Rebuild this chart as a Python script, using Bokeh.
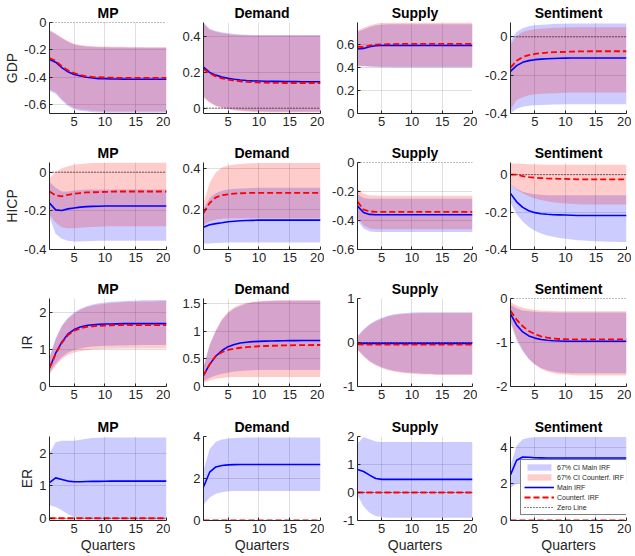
from bokeh.plotting import figure
from bokeh.layouts import gridplot
from bokeh.models import Range1d, FixedTicker, Legend, LegendItem
from bokeh.embed import file_html
from bokeh.resources import INLINE

quarters = list(range(1, 21))
zero_line = [0] * 20
shocks = ["MP", "Demand", "Supply", "Sentiment"]
variables = ["GDP", "HICP", "IR", "ER"]

# ---------------- GDP ----------------
gdp_mp_main = [-0.27, -0.29, -0.33, -0.36, -0.38, -0.39, -0.40, -0.405, -0.41, -0.41, -0.412, -0.413, -0.414, -0.415, -0.415, -0.415, -0.415, -0.415, -0.415, -0.415]
gdp_mp_cf = [-0.26, -0.28, -0.32, -0.35, -0.37, -0.385, -0.393, -0.398, -0.40, -0.402, -0.403, -0.404, -0.405, -0.405, -0.405, -0.405, -0.405, -0.405, -0.405, -0.405]
gdp_mp_hi = [-0.06, -0.085, -0.115, -0.14, -0.16, -0.17, -0.175, -0.178, -0.18, -0.181, -0.182, -0.183, -0.183, -0.184, -0.184, -0.184, -0.185, -0.185, -0.185, -0.185]
gdp_mp_lo = [-0.50, -0.52, -0.57, -0.61, -0.635, -0.645, -0.65, -0.655, -0.658, -0.66, -0.66, -0.66, -0.66, -0.66, -0.66, -0.66, -0.66, -0.66, -0.66, -0.66]
gdp_mp_cf_hi = [-0.055, -0.08, -0.11, -0.135, -0.155, -0.165, -0.17, -0.173, -0.175, -0.176, -0.177, -0.178, -0.178, -0.179, -0.179, -0.179, -0.18, -0.18, -0.18, -0.18]
gdp_mp_cf_lo = [-0.49, -0.51, -0.56, -0.60, -0.625, -0.635, -0.64, -0.645, -0.648, -0.65, -0.65, -0.65, -0.65, -0.65, -0.65, -0.65, -0.65, -0.65, -0.65, -0.65]

gdp_dem_main = [0.23, 0.20, 0.185, 0.175, 0.167, 0.162, 0.158, 0.155, 0.153, 0.152, 0.151, 0.15, 0.15, 0.149, 0.149, 0.149, 0.148, 0.148, 0.148, 0.148]
gdp_dem_cf = [0.22, 0.195, 0.178, 0.167, 0.16, 0.154, 0.15, 0.147, 0.145, 0.144, 0.143, 0.142, 0.142, 0.141, 0.141, 0.141, 0.141, 0.141, 0.141, 0.141]
gdp_dem_hi = [0.48, 0.445, 0.432, 0.425, 0.42, 0.416, 0.413, 0.411, 0.41, 0.41, 0.41, 0.41, 0.41, 0.41, 0.41, 0.41, 0.41, 0.41, 0.41, 0.41]
gdp_dem_lo = [0.065, 0.035, 0.015, 0.005, -0.003, -0.008, -0.012, -0.015, -0.017, -0.018, -0.019, -0.02, -0.02, -0.02, -0.02, -0.02, -0.02, -0.02, -0.02, -0.02]
gdp_dem_cf_hi = [0.475, 0.44, 0.428, 0.42, 0.415, 0.412, 0.41, 0.408, 0.407, 0.407, 0.407, 0.407, 0.407, 0.407, 0.407, 0.407, 0.407, 0.407, 0.407, 0.407]
gdp_dem_cf_lo = [0.06, 0.03, 0.01, 0.0, -0.008, -0.013, -0.017, -0.02, -0.022, -0.023, -0.024, -0.025, -0.025, -0.025, -0.025, -0.025, -0.025, -0.025, -0.025, -0.025]

gdp_sup_main = [0.56, 0.565, 0.58, 0.588, 0.59, 0.59, 0.59, 0.59, 0.59, 0.59, 0.59, 0.59, 0.59, 0.59, 0.59, 0.59, 0.59, 0.59, 0.59, 0.59]
gdp_sup_cf = [0.58, 0.575, 0.59, 0.598, 0.60, 0.602, 0.603, 0.604, 0.605, 0.605, 0.605, 0.605, 0.605, 0.605, 0.605, 0.605, 0.605, 0.605, 0.605, 0.605]
gdp_sup_hi = [0.71, 0.73, 0.75, 0.765, 0.77, 0.775, 0.775, 0.775, 0.775, 0.775, 0.775, 0.775, 0.775, 0.775, 0.775, 0.775, 0.775, 0.775, 0.775, 0.775]
gdp_sup_lo = [0.41, 0.41, 0.405, 0.403, 0.402, 0.401, 0.40, 0.40, 0.40, 0.40, 0.40, 0.40, 0.40, 0.40, 0.40, 0.40, 0.40, 0.40, 0.40, 0.40]
gdp_sup_cf_hi = [0.72, 0.745, 0.765, 0.78, 0.785, 0.788, 0.79, 0.79, 0.79, 0.79, 0.79, 0.79, 0.79, 0.79, 0.79, 0.79, 0.79, 0.79, 0.79, 0.79]
gdp_sup_cf_lo = [0.415, 0.415, 0.41, 0.408, 0.406, 0.405, 0.405, 0.405, 0.405, 0.405, 0.405, 0.405, 0.405, 0.405, 0.405, 0.405, 0.405, 0.405, 0.405, 0.405]

gdp_sen_main = [-0.18, -0.15, -0.133, -0.124, -0.119, -0.116, -0.114, -0.113, -0.112, -0.111, -0.11, -0.11, -0.11, -0.11, -0.11, -0.11, -0.11, -0.11, -0.11, -0.11]
gdp_sen_cf = [-0.16, -0.125, -0.105, -0.095, -0.089, -0.085, -0.082, -0.08, -0.079, -0.078, -0.077, -0.076, -0.076, -0.075, -0.075, -0.075, -0.075, -0.075, -0.075, -0.075]
gdp_sen_hi = [-0.02, 0.025, 0.045, 0.055, 0.06, 0.063, 0.065, 0.067, 0.068, 0.069, 0.07, 0.07, 0.07, 0.07, 0.07, 0.07, 0.07, 0.07, 0.07, 0.07]
gdp_sen_lo = [-0.40, -0.375, -0.365, -0.36, -0.357, -0.355, -0.354, -0.353, -0.353, -0.352, -0.352, -0.352, -0.352, -0.352, -0.352, -0.352, -0.352, -0.352, -0.352, -0.352]
gdp_sen_cf_hi = [-0.04, 0.005, 0.025, 0.035, 0.04, 0.043, 0.045, 0.047, 0.048, 0.049, 0.05, 0.05, 0.05, 0.05, 0.05, 0.05, 0.05, 0.05, 0.05, 0.05]
gdp_sen_cf_lo = [-0.38, -0.33, -0.315, -0.305, -0.30, -0.297, -0.295, -0.294, -0.293, -0.292, -0.291, -0.29, -0.29, -0.29, -0.29, -0.29, -0.29, -0.29, -0.29, -0.29]

# ---------------- HICP ----------------
hicp_mp_main = [-0.16, -0.195, -0.198, -0.19, -0.185, -0.181, -0.178, -0.177, -0.176, -0.175, -0.175, -0.175, -0.175, -0.175, -0.175, -0.175, -0.175, -0.175, -0.175, -0.175]
hicp_mp_cf = [-0.10, -0.12, -0.125, -0.117, -0.112, -0.108, -0.105, -0.104, -0.103, -0.102, -0.101, -0.10, -0.10, -0.10, -0.10, -0.10, -0.10, -0.10, -0.10, -0.10]
hicp_mp_hi = [-0.05, -0.08, -0.10, -0.10, -0.095, -0.092, -0.09, -0.09, -0.09, -0.09, -0.09, -0.09, -0.09, -0.09, -0.09, -0.09, -0.09, -0.09, -0.09, -0.09]
hicp_mp_lo = [-0.23, -0.32, -0.345, -0.355, -0.358, -0.358, -0.357, -0.356, -0.355, -0.355, -0.355, -0.355, -0.355, -0.355, -0.355, -0.355, -0.355, -0.355, -0.355, -0.355]
hicp_mp_cf_hi = [-0.03, 0.0, 0.02, 0.03, 0.038, 0.042, 0.045, 0.047, 0.048, 0.049, 0.05, 0.05, 0.05, 0.05, 0.05, 0.05, 0.05, 0.05, 0.05, 0.05]
hicp_mp_cf_lo = [-0.22, -0.26, -0.285, -0.29, -0.29, -0.288, -0.285, -0.283, -0.282, -0.281, -0.28, -0.28, -0.28, -0.28, -0.28, -0.28, -0.28, -0.28, -0.28, -0.28]

hicp_dem_main = [0.11, 0.122, 0.128, 0.132, 0.137, 0.14, 0.142, 0.143, 0.144, 0.145, 0.145, 0.145, 0.145, 0.145, 0.145, 0.145, 0.145, 0.145, 0.145, 0.145]
hicp_dem_cf = [0.18, 0.23, 0.258, 0.268, 0.273, 0.276, 0.278, 0.279, 0.28, 0.28, 0.28, 0.28, 0.28, 0.28, 0.28, 0.28, 0.28, 0.28, 0.28, 0.28]
hicp_dem_hi = [0.20, 0.255, 0.278, 0.29, 0.296, 0.30, 0.302, 0.303, 0.304, 0.305, 0.305, 0.305, 0.305, 0.305, 0.305, 0.305, 0.305, 0.305, 0.305, 0.305]
hicp_dem_lo = [0.03, 0.03, 0.032, 0.033, 0.034, 0.035, 0.035, 0.035, 0.035, 0.035, 0.035, 0.035, 0.035, 0.035, 0.035, 0.035, 0.035, 0.035, 0.035, 0.035]
hicp_dem_cf_hi = [0.23, 0.33, 0.38, 0.405, 0.415, 0.42, 0.423, 0.425, 0.426, 0.427, 0.428, 0.428, 0.428, 0.428, 0.428, 0.428, 0.428, 0.428, 0.428, 0.428]
hicp_dem_cf_lo = [0.12, 0.14, 0.148, 0.152, 0.154, 0.155, 0.155, 0.155, 0.155, 0.155, 0.155, 0.155, 0.155, 0.155, 0.155, 0.155, 0.155, 0.155, 0.155, 0.155]

hicp_sup_main = [-0.30, -0.345, -0.358, -0.36, -0.36, -0.36, -0.36, -0.36, -0.36, -0.36, -0.36, -0.36, -0.36, -0.36, -0.36, -0.36, -0.36, -0.36, -0.36, -0.36]
hicp_sup_cf = [-0.27, -0.325, -0.337, -0.34, -0.34, -0.34, -0.34, -0.34, -0.34, -0.34, -0.34, -0.34, -0.34, -0.34, -0.34, -0.34, -0.34, -0.34, -0.34, -0.34]
hicp_sup_hi = [-0.22, -0.245, -0.25, -0.25, -0.25, -0.25, -0.25, -0.25, -0.25, -0.25, -0.25, -0.25, -0.25, -0.25, -0.25, -0.25, -0.25, -0.25, -0.25, -0.25]
hicp_sup_lo = [-0.40, -0.455, -0.475, -0.48, -0.48, -0.48, -0.48, -0.48, -0.48, -0.48, -0.48, -0.48, -0.48, -0.48, -0.48, -0.48, -0.48, -0.48, -0.48, -0.48]
hicp_sup_cf_hi = [-0.18, -0.215, -0.225, -0.228, -0.23, -0.23, -0.23, -0.23, -0.23, -0.23, -0.23, -0.23, -0.23, -0.23, -0.23, -0.23, -0.23, -0.23, -0.23, -0.23]
hicp_sup_cf_lo = [-0.38, -0.435, -0.455, -0.46, -0.46, -0.46, -0.46, -0.46, -0.46, -0.46, -0.46, -0.46, -0.46, -0.46, -0.46, -0.46, -0.46, -0.46, -0.46, -0.46]

hicp_sen_main = [-0.10, -0.145, -0.175, -0.193, -0.203, -0.209, -0.212, -0.214, -0.215, -0.216, -0.217, -0.218, -0.218, -0.218, -0.218, -0.218, -0.218, -0.218, -0.218, -0.218]
hicp_sen_cf = [0.0, 0.0, -0.008, -0.013, -0.016, -0.018, -0.02, -0.021, -0.022, -0.023, -0.024, -0.025, -0.025, -0.025, -0.025, -0.025, -0.025, -0.025, -0.025, -0.025]
hicp_sen_hi = [-0.05, -0.075, -0.092, -0.10, -0.105, -0.108, -0.11, -0.11, -0.11, -0.11, -0.11, -0.11, -0.11, -0.11, -0.11, -0.11, -0.11, -0.11, -0.11, -0.11]
hicp_sen_lo = [-0.15, -0.21, -0.25, -0.28, -0.30, -0.315, -0.325, -0.332, -0.338, -0.342, -0.346, -0.35, -0.352, -0.354, -0.356, -0.357, -0.358, -0.359, -0.36, -0.36]
hicp_sen_cf_hi = [0.06, 0.06, 0.058, 0.056, 0.055, 0.054, 0.053, 0.053, 0.053, 0.053, 0.053, 0.053, 0.053, 0.053, 0.053, 0.053, 0.053, 0.053, 0.053, 0.053]
hicp_sen_cf_lo = [-0.05, -0.08, -0.10, -0.115, -0.127, -0.135, -0.142, -0.147, -0.151, -0.154, -0.156, -0.158, -0.159, -0.16, -0.16, -0.16, -0.16, -0.16, -0.16, -0.16]

# ---------------- IR ----------------
ir_mp_main = [0.5, 0.9, 1.2, 1.42, 1.54, 1.61, 1.65, 1.67, 1.68, 1.69, 1.69, 1.695, 1.70, 1.70, 1.70, 1.70, 1.70, 1.70, 1.70, 1.70]
ir_mp_cf = [0.5, 0.88, 1.18, 1.39, 1.51, 1.57, 1.61, 1.63, 1.64, 1.65, 1.655, 1.66, 1.66, 1.66, 1.66, 1.66, 1.66, 1.66, 1.66, 1.66]
ir_mp_hi = [0.8, 1.3, 1.65, 1.86, 2.0, 2.1, 2.17, 2.22, 2.25, 2.27, 2.29, 2.30, 2.31, 2.32, 2.32, 2.33, 2.33, 2.33, 2.34, 2.34]
ir_mp_lo = [0.38, 0.62, 0.8, 0.92, 0.99, 1.03, 1.06, 1.08, 1.09, 1.10, 1.105, 1.11, 1.11, 1.115, 1.115, 1.12, 1.12, 1.12, 1.12, 1.12]
ir_mp_cf_hi = [0.78, 1.27, 1.62, 1.83, 1.97, 2.07, 2.14, 2.19, 2.22, 2.24, 2.26, 2.27, 2.28, 2.29, 2.29, 2.30, 2.30, 2.30, 2.31, 2.31]
ir_mp_cf_lo = [0.32, 0.56, 0.74, 0.85, 0.92, 0.96, 0.98, 1.0, 1.01, 1.02, 1.02, 1.025, 1.025, 1.03, 1.03, 1.03, 1.03, 1.03, 1.03, 1.03]

ir_dem_main = [0.2, 0.4, 0.55, 0.65, 0.72, 0.76, 0.785, 0.80, 0.81, 0.815, 0.82, 0.823, 0.825, 0.827, 0.828, 0.829, 0.83, 0.83, 0.83, 0.83]
ir_dem_cf = [0.2, 0.4, 0.55, 0.62, 0.66, 0.685, 0.70, 0.71, 0.72, 0.727, 0.732, 0.736, 0.74, 0.742, 0.744, 0.746, 0.748, 0.749, 0.75, 0.75]
ir_dem_hi = [0.35, 0.75, 1.0, 1.2, 1.33, 1.41, 1.46, 1.50, 1.52, 1.53, 1.54, 1.545, 1.55, 1.55, 1.55, 1.55, 1.55, 1.55, 1.55, 1.55]
ir_dem_lo = [0.1, 0.16, 0.2, 0.23, 0.25, 0.27, 0.28, 0.29, 0.295, 0.30, 0.30, 0.30, 0.30, 0.30, 0.30, 0.30, 0.30, 0.30, 0.30, 0.30]
ir_dem_cf_hi = [0.36, 0.76, 1.02, 1.22, 1.35, 1.43, 1.48, 1.51, 1.53, 1.54, 1.55, 1.555, 1.56, 1.56, 1.56, 1.56, 1.56, 1.56, 1.56, 1.56]
ir_dem_cf_lo = [0.07, 0.11, 0.14, 0.155, 0.165, 0.17, 0.17, 0.17, 0.17, 0.17, 0.17, 0.17, 0.17, 0.17, 0.17, 0.17, 0.17, 0.17, 0.17, 0.17]

ir_sup_main = [-0.02, -0.02, -0.02, -0.02, -0.02, -0.02, -0.02, -0.02, -0.02, -0.02, -0.02, -0.02, -0.02, -0.02, -0.02, -0.02, -0.02, -0.02, -0.02, -0.02]
ir_sup_cf = [-0.04, -0.05, -0.05, -0.05, -0.05, -0.05, -0.05, -0.05, -0.05, -0.05, -0.05, -0.05, -0.05, -0.05, -0.05, -0.05, -0.05, -0.05, -0.05, -0.05]
ir_sup_hi = [0.15, 0.3, 0.42, 0.5, 0.56, 0.61, 0.64, 0.66, 0.67, 0.68, 0.685, 0.69, 0.69, 0.69, 0.69, 0.69, 0.69, 0.69, 0.69, 0.69]
ir_sup_lo = [-0.15, -0.3, -0.42, -0.5, -0.56, -0.61, -0.64, -0.66, -0.68, -0.69, -0.70, -0.71, -0.71, -0.72, -0.72, -0.72, -0.72, -0.72, -0.72, -0.72]
ir_sup_cf_hi = [0.13, 0.28, 0.4, 0.48, 0.54, 0.59, 0.62, 0.64, 0.65, 0.66, 0.665, 0.67, 0.67, 0.67, 0.67, 0.67, 0.67, 0.67, 0.67, 0.67]
ir_sup_cf_lo = [-0.17, -0.32, -0.44, -0.52, -0.58, -0.63, -0.66, -0.69, -0.70, -0.71, -0.72, -0.73, -0.73, -0.74, -0.74, -0.74, -0.74, -0.74, -0.74, -0.74]

ir_sen_main = [-0.35, -0.6, -0.76, -0.85, -0.9, -0.93, -0.95, -0.96, -0.965, -0.97, -0.97, -0.97, -0.97, -0.97, -0.97, -0.97, -0.97, -0.97, -0.97, -0.97]
ir_sen_cf = [-0.28, -0.48, -0.63, -0.74, -0.81, -0.86, -0.89, -0.91, -0.92, -0.925, -0.93, -0.93, -0.93, -0.93, -0.93, -0.93, -0.93, -0.93, -0.93, -0.93]
ir_sen_hi = [-0.15, -0.22, -0.27, -0.29, -0.30, -0.31, -0.315, -0.32, -0.32, -0.32, -0.32, -0.32, -0.32, -0.32, -0.32, -0.32, -0.32, -0.32, -0.32, -0.32]
ir_sen_lo = [-0.55, -0.95, -1.2, -1.38, -1.5, -1.58, -1.63, -1.66, -1.68, -1.69, -1.70, -1.70, -1.70, -1.70, -1.70, -1.70, -1.70, -1.70, -1.70, -1.70]
ir_sen_cf_hi = [-0.08, -0.16, -0.21, -0.24, -0.26, -0.27, -0.28, -0.285, -0.29, -0.29, -0.29, -0.29, -0.29, -0.29, -0.29, -0.29, -0.29, -0.29, -0.29, -0.29]
ir_sen_cf_lo = [-0.5, -0.9, -1.17, -1.37, -1.5, -1.6, -1.66, -1.70, -1.72, -1.73, -1.74, -1.75, -1.75, -1.75, -1.75, -1.75, -1.75, -1.75, -1.75, -1.75]

# ---------------- ER ----------------
er_mp_main = [1.1, 1.25, 1.2, 1.15, 1.13, 1.13, 1.135, 1.14, 1.14, 1.145, 1.15, 1.15, 1.15, 1.15, 1.15, 1.15, 1.15, 1.15, 1.15, 1.15]
er_mp_hi = [2.0, 2.35, 2.4, 2.4, 2.4, 2.43, 2.46, 2.48, 2.49, 2.5, 2.5, 2.5, 2.5, 2.5, 2.5, 2.5, 2.5, 2.5, 2.5, 2.5]
er_mp_lo = [0.4, 0.35, 0.25, 0.12, 0.03, -0.01, -0.03, -0.04, -0.05, -0.05, -0.05, -0.05, -0.05, -0.05, -0.05, -0.05, -0.05, -0.05, -0.05, -0.05]

er_dem_main = [1.6, 2.3, 2.55, 2.62, 2.65, 2.66, 2.665, 2.67, 2.67, 2.67, 2.67, 2.67, 2.67, 2.67, 2.67, 2.67, 2.67, 2.67, 2.67, 2.67]
er_dem_hi = [2.4, 3.4, 3.75, 3.86, 3.91, 3.93, 3.94, 3.95, 3.95, 3.95, 3.95, 3.95, 3.95, 3.95, 3.95, 3.95, 3.95, 3.95, 3.95, 3.95]
er_dem_lo = [0.75, 1.1, 1.27, 1.35, 1.39, 1.40, 1.40, 1.40, 1.40, 1.40, 1.40, 1.40, 1.40, 1.40, 1.40, 1.40, 1.40, 1.40, 1.40, 1.40]

er_sup_main = [0.82, 0.75, 0.62, 0.50, 0.47, 0.47, 0.47, 0.47, 0.47, 0.47, 0.47, 0.47, 0.47, 0.47, 0.47, 0.47, 0.47, 0.47, 0.47, 0.47]
er_sup_hi = [1.75, 1.98, 1.9, 1.82, 1.8, 1.8, 1.8, 1.8, 1.8, 1.8, 1.8, 1.8, 1.8, 1.8, 1.8, 1.8, 1.8, 1.8, 1.8, 1.8]
er_sup_lo = [-0.1, -0.5, -0.72, -0.84, -0.88, -0.9, -0.9, -0.9, -0.9, -0.9, -0.9, -0.9, -0.9, -0.9, -0.9, -0.9, -0.9, -0.9, -0.9, -0.9]

er_sen_main = [2.5, 3.3, 3.48, 3.46, 3.44, 3.43, 3.42, 3.42, 3.42, 3.42, 3.42, 3.42, 3.42, 3.42, 3.42, 3.42, 3.42, 3.42, 3.42, 3.42]
er_sen_hi = [3.0, 4.1, 4.45, 4.53, 4.56, 4.57, 4.57, 4.57, 4.57, 4.57, 4.57, 4.57, 4.57, 4.57, 4.57, 4.57, 4.57, 4.57, 4.57, 4.57]
er_sen_lo = [1.8, 2.0, 2.05, 2.08, 2.1, 2.1, 2.1, 2.1, 2.1, 2.1, 2.1, 2.1, 2.1, 2.1, 2.1, 2.1, 2.1, 2.1, 2.1, 2.1]

# counterfactual ER responses are zero
er_cf = [0.0] * 20

# axis limits and ticks per panel
y_limits = {
    ("GDP", "MP"): (-0.665, 0.0), ("GDP", "Demand"): (-0.03, 0.48),
    ("GDP", "Supply"): (0.0, 0.79), ("GDP", "Sentiment"): (-0.4, 0.075),
    ("HICP", "MP"): (-0.4, 0.05), ("HICP", "Demand"): (0.0, 0.43),
    ("HICP", "Supply"): (-0.6, 0.0), ("HICP", "Sentiment"): (-0.4, 0.065),
    ("IR", "MP"): (0.0, 2.38), ("IR", "Demand"): (0.0, 1.59),
    ("IR", "Supply"): (-1.0, 1.0), ("IR", "Sentiment"): (-2.0, 0.0),
    ("ER", "MP"): (-0.07, 2.53), ("ER", "Demand"): (0.0, 4.0),
    ("ER", "Supply"): (-1.0, 2.0), ("ER", "Sentiment"): (0.0, 4.6),
}
y_ticks = {
    ("GDP", "MP"): [-0.6, -0.4, -0.2, 0], ("GDP", "Demand"): [0, 0.2, 0.4],
    ("GDP", "Supply"): [0, 0.2, 0.4, 0.6], ("GDP", "Sentiment"): [-0.4, -0.2, 0],
    ("HICP", "MP"): [-0.4, -0.2, 0], ("HICP", "Demand"): [0, 0.2, 0.4],
    ("HICP", "Supply"): [-0.6, -0.4, -0.2, 0], ("HICP", "Sentiment"): [-0.4, -0.2, 0],
    ("IR", "MP"): [0, 1, 2], ("IR", "Demand"): [0, 0.5, 1, 1.5],
    ("IR", "Supply"): [-1, 0, 1], ("IR", "Sentiment"): [-2, -1, 0],
    ("ER", "MP"): [0, 1, 2], ("ER", "Demand"): [0, 2, 4],
    ("ER", "Supply"): [-1, 0, 1, 2], ("ER", "Sentiment"): [0, 2, 4],
}
x_ticks = [5, 10, 15, 20]

series = {
    ("GDP", "MP"): (gdp_mp_main, gdp_mp_cf, gdp_mp_lo, gdp_mp_hi, gdp_mp_cf_lo, gdp_mp_cf_hi),
    ("GDP", "Demand"): (gdp_dem_main, gdp_dem_cf, gdp_dem_lo, gdp_dem_hi, gdp_dem_cf_lo, gdp_dem_cf_hi),
    ("GDP", "Supply"): (gdp_sup_main, gdp_sup_cf, gdp_sup_lo, gdp_sup_hi, gdp_sup_cf_lo, gdp_sup_cf_hi),
    ("GDP", "Sentiment"): (gdp_sen_main, gdp_sen_cf, gdp_sen_lo, gdp_sen_hi, gdp_sen_cf_lo, gdp_sen_cf_hi),
    ("HICP", "MP"): (hicp_mp_main, hicp_mp_cf, hicp_mp_lo, hicp_mp_hi, hicp_mp_cf_lo, hicp_mp_cf_hi),
    ("HICP", "Demand"): (hicp_dem_main, hicp_dem_cf, hicp_dem_lo, hicp_dem_hi, hicp_dem_cf_lo, hicp_dem_cf_hi),
    ("HICP", "Supply"): (hicp_sup_main, hicp_sup_cf, hicp_sup_lo, hicp_sup_hi, hicp_sup_cf_lo, hicp_sup_cf_hi),
    ("HICP", "Sentiment"): (hicp_sen_main, hicp_sen_cf, hicp_sen_lo, hicp_sen_hi, hicp_sen_cf_lo, hicp_sen_cf_hi),
    ("IR", "MP"): (ir_mp_main, ir_mp_cf, ir_mp_lo, ir_mp_hi, ir_mp_cf_lo, ir_mp_cf_hi),
    ("IR", "Demand"): (ir_dem_main, ir_dem_cf, ir_dem_lo, ir_dem_hi, ir_dem_cf_lo, ir_dem_cf_hi),
    ("IR", "Supply"): (ir_sup_main, ir_sup_cf, ir_sup_lo, ir_sup_hi, ir_sup_cf_lo, ir_sup_cf_hi),
    ("IR", "Sentiment"): (ir_sen_main, ir_sen_cf, ir_sen_lo, ir_sen_hi, ir_sen_cf_lo, ir_sen_cf_hi),
    ("ER", "MP"): (er_mp_main, er_cf, er_mp_lo, er_mp_hi, er_cf, er_cf),
    ("ER", "Demand"): (er_dem_main, er_cf, er_dem_lo, er_dem_hi, er_cf, er_cf),
    ("ER", "Supply"): (er_sup_main, er_cf, er_sup_lo, er_sup_hi, er_cf, er_cf),
    ("ER", "Sentiment"): (er_sen_main, er_cf, er_sen_lo, er_sen_hi, er_cf, er_cf),
}

FONT = "Liberation Sans"
AX = "#262626"

# layout (pixels): per-column borders/widths, per-row borders/heights
col_width = [170, 154, 153, 154]
col_left = [49, 33, 33, 33]
col_right = [4, 4, 5, 5]
row_height = [141, 136, 138, 140]
row_top = [22, 18, 18, 18]
row_bottom = [28, 28, 29, 34]

rows = []
for r, var in enumerate(variables):
    row = []
    for c, shock in enumerate(shocks):
        key = (var, shock)
        main, cf, lo, hi, cf_lo, cf_hi = series[key]
        p = figure(width=col_width[c], height=row_height[r], output_backend="svg",
                   toolbar_location=None,
                   x_range=Range1d(1, 20), y_range=Range1d(*y_limits[key]),
                   min_border_left=col_left[c], min_border_right=col_right[c],
                   min_border_top=row_top[r], min_border_bottom=row_bottom[r],
                   title=shock)
        p.title.align = "center"
        p.title.text_font = FONT
        p.title.text_font_size = "14px"
        p.title.text_font_style = "bold"
        p.title.text_color = "black"
        p.title.standoff = 3
        p.outline_line_color = None
        p.background_fill_color = "white"
        p.border_fill_color = "white"

        for ax in (p.xaxis[0], p.yaxis[0]):
            ax.axis_line_color = AX
            ax.major_tick_line_color = AX
            ax.minor_tick_line_color = None
            ax.major_tick_in = 3
            ax.major_tick_out = 0
            ax.major_label_standoff = 3
            ax.major_label_text_font = FONT
            ax.major_label_text_font_size = "13px"
            ax.major_label_text_color = AX
            ax.axis_label_text_font = FONT
            ax.axis_label_text_font_size = "14px"
            ax.axis_label_text_font_style = "normal"
            ax.axis_label_text_color = AX
            ax.axis_label_standoff = 1
        p.xaxis.ticker = FixedTicker(ticks=x_ticks)
        p.yaxis.ticker = FixedTicker(ticks=y_ticks[key])
        p.yaxis.major_label_overrides = {t: f"{t:g}" for t in y_ticks[key]}
        p.grid.grid_line_color = AX
        p.grid.grid_line_alpha = 0.15
        p.xgrid.ticker = FixedTicker(ticks=x_ticks)
        p.ygrid.ticker = FixedTicker(ticks=y_ticks[key])
        if c == 0:
            p.yaxis.axis_label = var
        if r == 3:
            p.xaxis.axis_label = "Quarters"

        rb = p.varea(x=quarters, y1=lo, y2=hi, fill_color="#0000ff", fill_alpha=0.2)
        rr = p.varea(x=quarters, y1=cf_lo, y2=cf_hi, fill_color="#ff0000", fill_alpha=0.2)
        rz = p.line(x=quarters, y=zero_line, line_color="black", line_width=1, line_dash="1 2")
        rm = p.line(x=quarters, y=main, line_color="#0000ff", line_width=1.6)
        rc = p.line(x=quarters, y=cf, line_color="#ff0000", line_width=1.8, line_dash="6 3")

        if r == 3 and c == 3:
            legend = Legend(items=[
                LegendItem(label="67% CI Main IRF", renderers=[rb]),
                LegendItem(label="67% CI Counterf. IRF", renderers=[rr]),
                LegendItem(label="Main IRF", renderers=[rm]),
                LegendItem(label="Counterf. IRF", renderers=[rc]),
                LegendItem(label="Zero Line", renderers=[rz]),
            ], location=(10, 5))
            legend.label_text_font = FONT
            legend.label_text_font_size = "7px"
            legend.label_text_color = AX
            legend.glyph_width = 30
            legend.glyph_height = 8
            legend.label_height = 8
            legend.label_standoff = 3
            legend.spacing = 2
            legend.padding = 3
            legend.margin = 0
            legend.border_line_color = "black"
            legend.border_line_width = 1
            legend.background_fill_alpha = 1
            p.add_layout(legend)
        row.append(p)
    rows.append(row)

grid = gridplot(rows, toolbar_location=None)
open("out.html", "w").write(file_html(grid, INLINE))
